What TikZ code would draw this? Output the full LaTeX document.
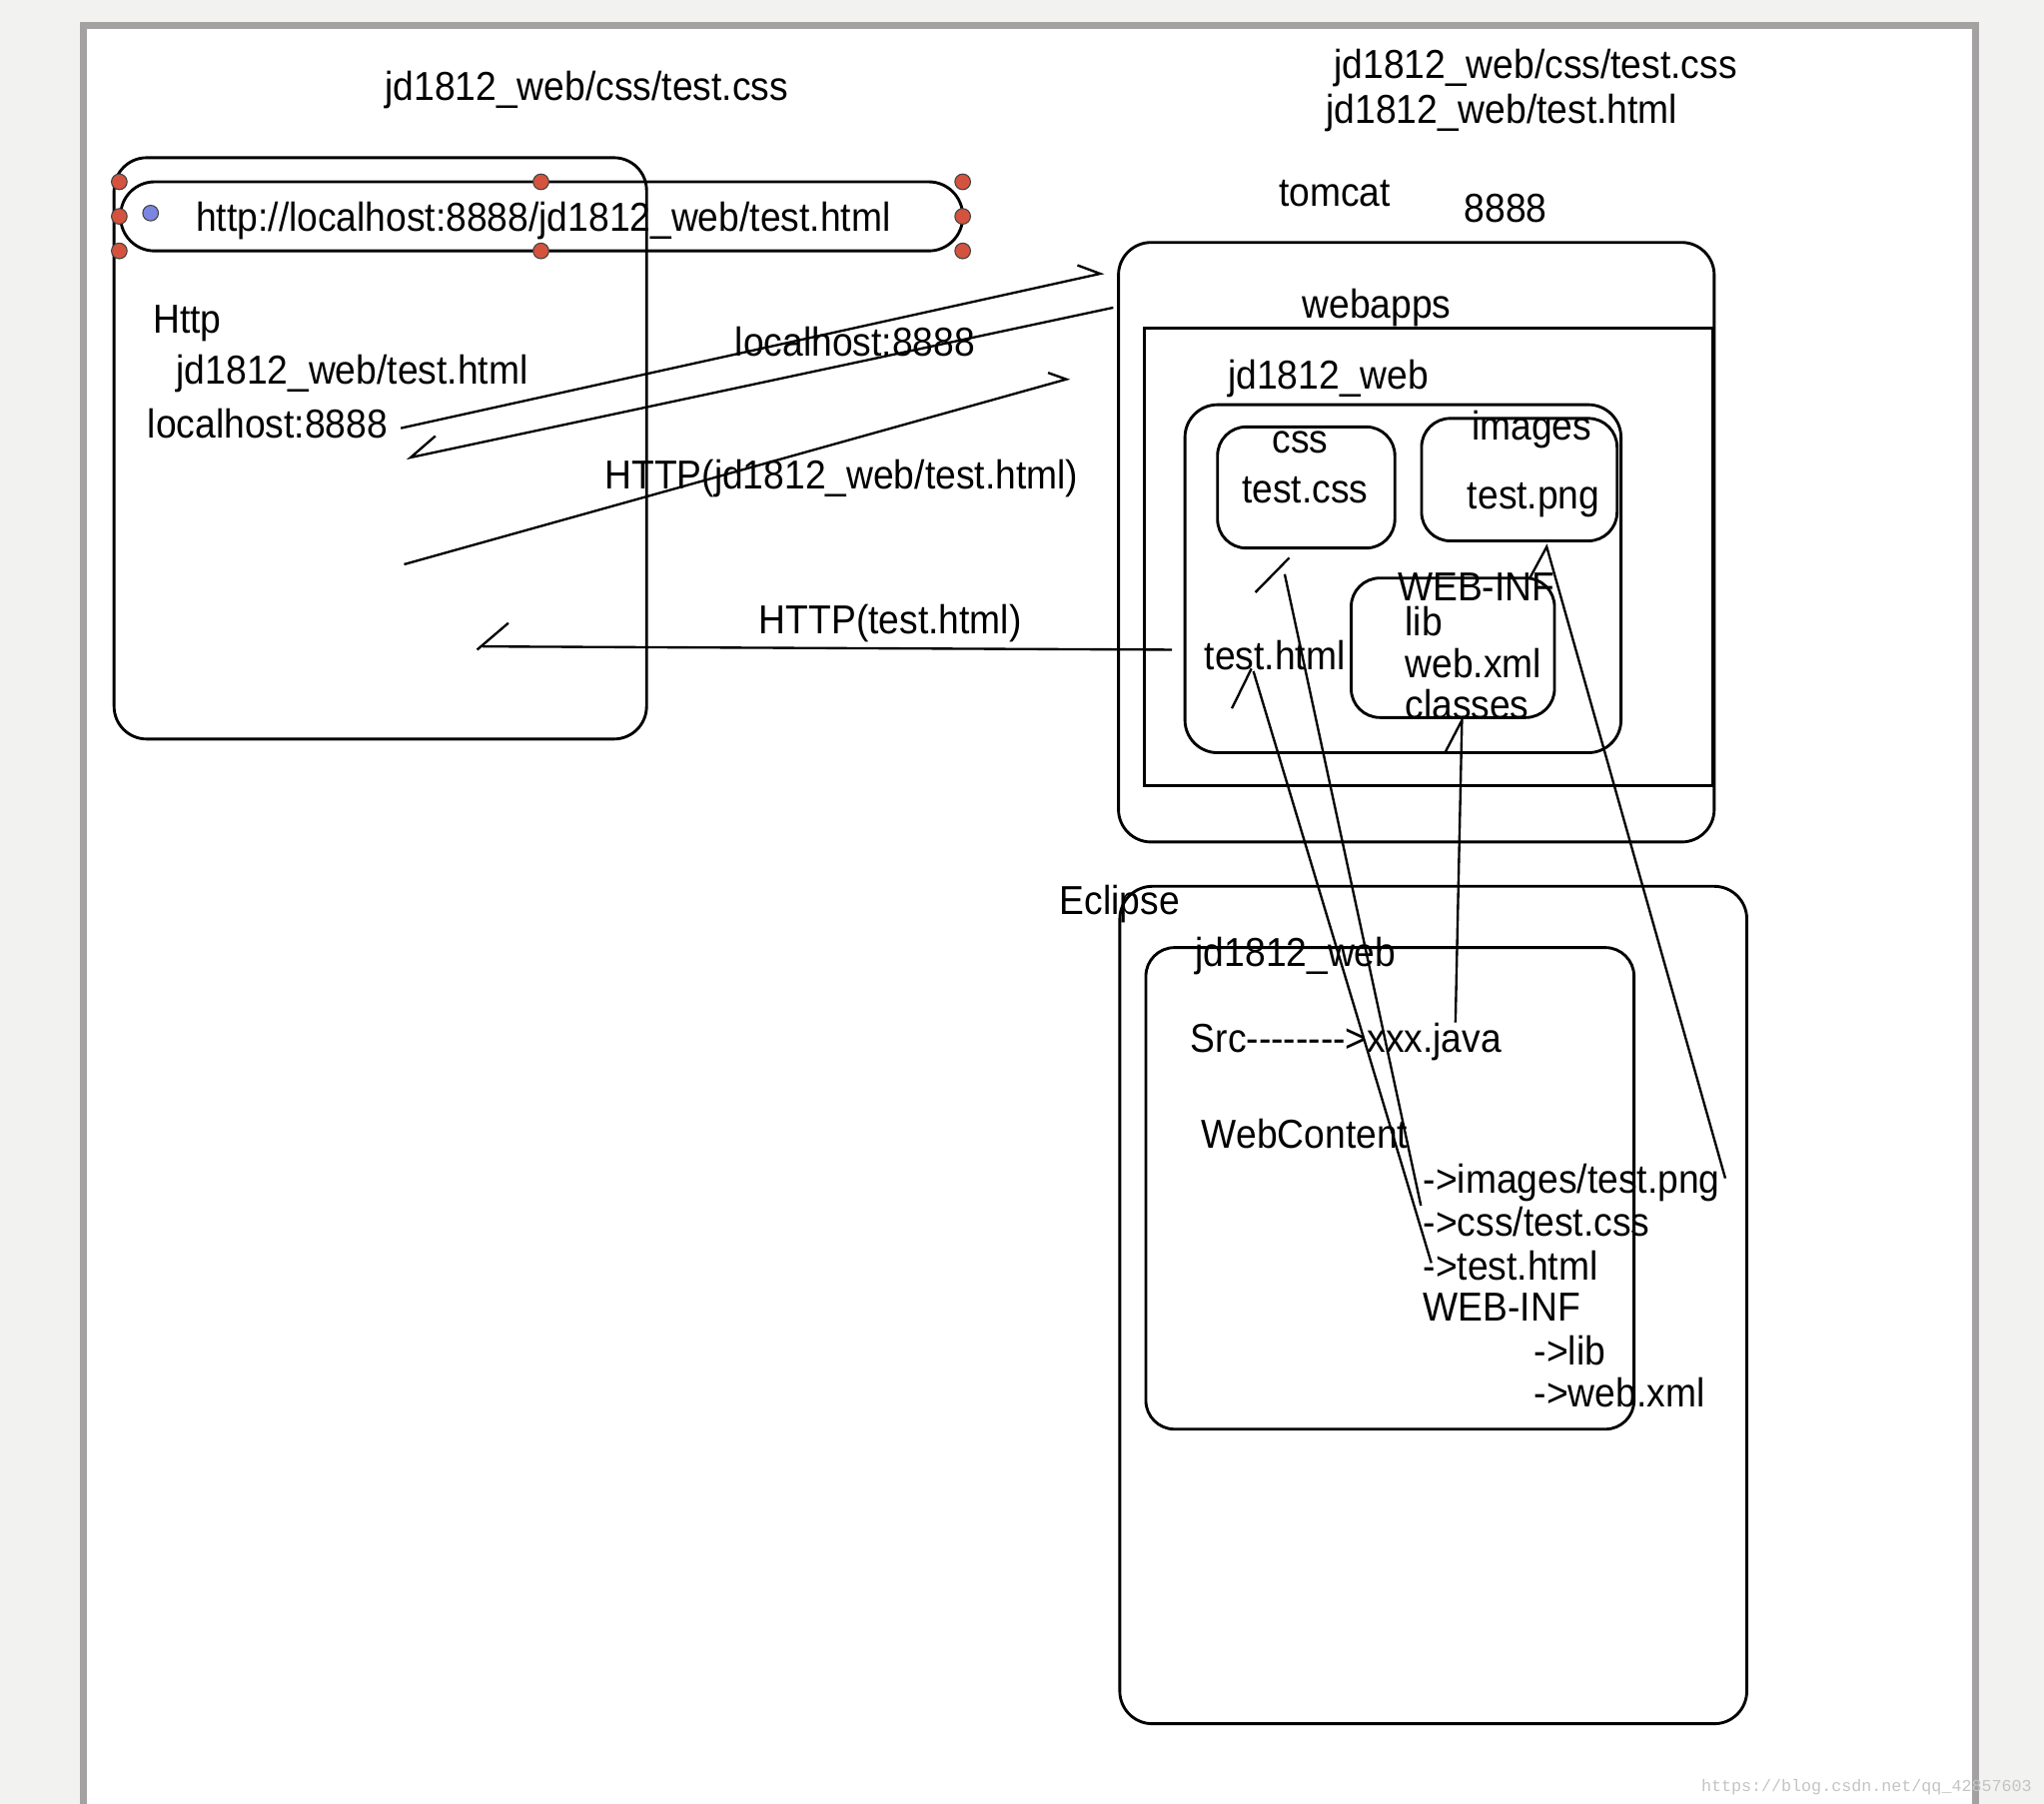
\documentclass[tikz,border=0pt]{standalone}
\usepackage{fontspec}
\setmainfont{Liberation Sans}[FakeStretch=0.92]
\newfontfamily\wmfont{Liberation Mono}
\definecolor{pagebg}{HTML}{F2F2F0}
\definecolor{framegray}{HTML}{A3A1A1}
\definecolor{handlered}{HTML}{D4533F}
\definecolor{handleblue}{HTML}{7B86E0}
\definecolor{wmgray}{HTML}{C4C4C4}
\tikzset{
 box/.style={draw=black, line width=1.1pt, rounded corners=12.5pt},
 smallbox/.style={draw=black, line width=1.1pt, rounded corners=11pt},
 sharpbox/.style={draw=black, line width=1.1pt},
 conn/.style={draw=black, line width=0.9pt},
 lbl/.style={inner sep=0pt, font=\fontsize{15.5}{18}\selectfont, anchor=mid, yshift=-2pt},
 lbll/.style={lbl, anchor=mid west},
 handle/.style={circle, fill=handlered, draw=black!75, line width=0.4pt, minimum size=6pt, inner sep=0pt},
}
\begin{document}
\begin{tikzpicture}[x=0.5pt,y=-0.5pt]
\fill[pagebg] (0,0) rectangle (1568,1384);
\useasboundingbox (0,0) rectangle (1568,1384);
\fill[white] (64,19.5) rectangle (1515.5,1400);
\draw[framegray, line width=3pt] (64,1400) -- (64,19.5) -- (1515.5,19.5) -- (1515.5,1400);

% browser
\draw[box] (87.5,121) rectangle (496,567);
\draw[box, rounded corners=13pt] (92.5,139.5) rectangle (738.5,192.5);
\node[handle] (h1) at (91.5,139.5) {};
\node[handle] (h2) at (91.5,166) {};
\node[handle] (h3) at (91.5,192.5) {};
\node[handle] (h4) at (415,139.5) {};
\node[handle] (h5) at (415,192.5) {};
\node[handle] (h6) at (738.5,139.5) {};
\node[handle] (h7) at (738.5,166) {};
\node[handle] (h8) at (738.5,192.5) {};
\node[handle, fill=handleblue] (hb) at (115.5,163.5) {};
\node[lbll] (url) at (150,168) {http://localhost:8888/jd1812\_web/test.html};

\node[lbl] (t1) at (450,68) {jd1812\_web/css/test.css};
\node[lbll] (http) at (117,246) {Http};
\node[lbll] (path) at (135,285.5) {jd1812\_web/test.html};
\node[lbll] (lh) at (113,326.5) {localhost:8888};

% top right
\node[lbl] (t2) at (1178,51) {jd1812\_web/css/test.css};
\node[lbl] (t3) at (1152,85) {jd1812\_web/test.html};
\node[lbl] (tomcat) at (1024,149) {tomcat};
\node[lbl] (port) at (1155,161) {8888};

% tomcat
\draw[box] (858,186) rectangle (1315,646);
\node[lbl] (webapps) at (1056,235) {webapps};
\draw[sharpbox] (878,251.5) rectangle (1314,602.5);
\node[lbl] (jdw) at (1019,289.5) {jd1812\_web};
\draw[box] (909,310.5) rectangle (1243.5,577.5);
\draw[smallbox] (934,327.5) rectangle (1070,420.5);
\node[lbl] (css) at (997.5,338.5) {css};
\node[lbl] (tcss) at (1001,376.5) {test.css};
\draw[smallbox] (1090.5,321) rectangle (1240.5,415);
\node[lbl] (images) at (1175,328) {images};
\node[lbl] (tpng) at (1176.5,381) {test.png};
\draw[smallbox] (1036.5,443.5) rectangle (1192.5,550.5);
\node[lbl] (webinf) at (1132.5,451.5) {WEB-INF};
\node[lbll] (lib) at (1077.5,478.5) {lib};
\node[lbll] (webxml) at (1077.5,511) {web.xml};
\node[lbll] (classes) at (1077.5,542) {classes};
\node[lbl] (thtml) at (978,504.5) {test.html};

% eclipse
\draw[box] (859,680) rectangle (1340,1322.5);
\node[lbl] (eclipse) at (859,692) {Eclipse};
\draw[smallbox] (879,727) rectangle (1253.5,1096.5);
\node[lbl] (ejdw) at (994,732.5) {jd1812\_web};
\node[lbll] (src) at (913,798) {Src-{}-{}-{}-{}-{}-{}-{}->xxx.java};
\node[lbll] (wc) at (921.5,872) {WebContent};
\node[lbll] (eimg) at (1091.5,906.5) {->images/test.png};
\node[lbll] (ecss) at (1091.5,939) {->css/test.css};
\node[lbll] (ehtml) at (1091.5,972.5) {->test.html};
\node[lbll] (ewebinf) at (1091.5,1004.5) {WEB-INF};
\node[lbll] (elib) at (1176.5,1038) {->lib};
\node[lbll] (exml) at (1176.5,1070.5) {->web.xml};

% labels of connectors
\node[lbl] (llh) at (656,264) {localhost:8888};
\node[lbl] (lreq) at (645.5,366) {HTTP(jd1812\_web/test.html)};
\node[lbl] (lresp) at (683,477) {HTTP(test.html)};

% connectors browser <-> tomcat
\coordinate (a1s) at (307.5,328.5);
\coordinate (a1e) at (844,210);
\coordinate (a1b) at (826.5,203.5);
\draw[conn] (a1s) -- (a1e) -- (a1b);
\coordinate (a2s) at (854,236);
\coordinate (a2e) at (315,351);
\coordinate (a2b) at (334,334.5);
\draw[conn] (a2s) -- (a2e) -- (a2b);
\coordinate (a3s) at (310,433);
\coordinate (a3e) at (818,291);
\coordinate (a3b) at (804,286);
\draw[conn] (a3s) -- (a3e) -- (a3b);
\coordinate (a4s) at (899,498.5);
\coordinate (a4e) at (370,496);
\coordinate (a4b1) at (366,498.5);
\coordinate (a4b2) at (390,478);
\draw[conn] (a4s) -- (a4e);
\draw[conn] (a4b1) -- (a4b2);

% connectors tomcat <-> eclipse
\coordinate (c1b1) at (963,454.5);
\coordinate (c1b2) at (989,428);
\coordinate (c1s) at (985.5,440.5);
\coordinate (c1e) at (1090,925);
\draw[conn] (c1b1) -- (c1b2);
\draw[conn] (c1s) -- (c1e);
\coordinate (c2b1) at (945,543.5);
\coordinate (c2b2) at (960,513);
\coordinate (c2s) at (961.5,515);
\coordinate (c2e) at (1098,969);
\draw[conn] (c2b1) -- (c2b2);
\draw[conn] (c2s) -- (c2e);
\coordinate (c3b1) at (1109,576.5);
\coordinate (c3s) at (1121.5,552.5);
\coordinate (c3e) at (1116.5,784.5);
\draw[conn] (c3b1) -- (c3s) -- (c3e);
\coordinate (c4b1) at (1173,444.5);
\coordinate (c4s) at (1186.5,419.5);
\coordinate (c4e) at (1323.5,904);
\draw[conn] (c4b1) -- (c4s) -- (c4e);

% watermark
\node[inner sep=0pt, anchor=mid east, font=\wmfont\fontsize{6.4}{8}\selectfont, text=wmgray] (wm) at (1559,1369) {https://blog.csdn.net/qq\_42857603};
\end{tikzpicture}
\end{document}
